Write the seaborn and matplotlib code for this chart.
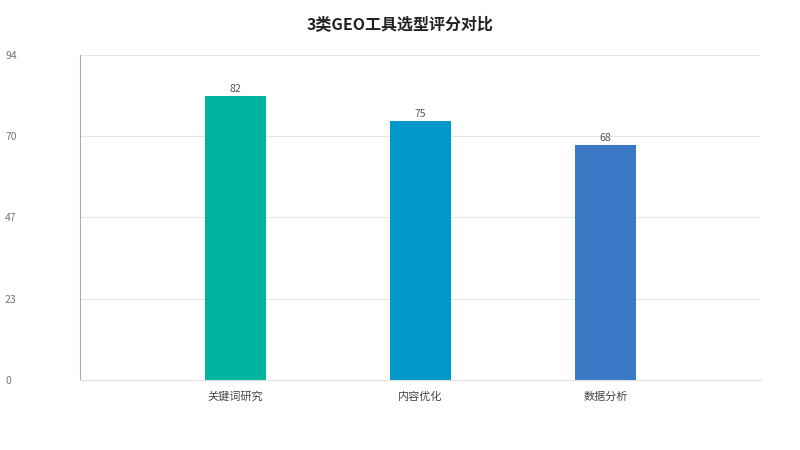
import matplotlib.pyplot as plt
import seaborn as sns
import pandas as pd

categories = ["关键词研究", "内容优化", "数据分析"]
scores = [82, 75, 68]
colors = ["#00B39E", "#0098C8", "#3B78C6"]
y_ticks = [0, 23.5, 47, 70.5, 94]

sns.set_theme(style="white")
plt.rcParams['font.family'] = ['Noto Sans CJK SC', 'DejaVu Sans']

df = pd.DataFrame({"tool": categories, "score": scores})

fig = plt.figure(figsize=(8, 4.5), dpi=100)
ax = fig.add_axes([0.1, 0.1556, 0.85125, 0.7222])

sns.barplot(data=df, x="tool", y="score", hue="tool", palette=colors,
            width=0.33, legend=False, ax=ax, saturation=1, linewidth=0)

for c in ax.containers:
    ax.bar_label(c, padding=1.5, fontsize=7.5, color="#555555")

ax.set_xlim(-0.84, 2.84)
ax.set_ylim(0, 94)
ax.set_yticks(y_ticks)
ax.set_yticklabels([str(int(v)) for v in y_ticks])
ax.yaxis.grid(True, color="#e6e6e6", linewidth=0.8)
ax.set_axisbelow(True)

for s in ["top", "right"]:
    ax.spines[s].set_visible(False)
ax.spines["left"].set_color("#aaaaaa")
ax.spines["left"].set_linewidth(0.8)
ax.spines["bottom"].set_color("#e0e0e0")
ax.spines["bottom"].set_linewidth(0.8)

ax.tick_params(axis="y", length=0, pad=54, labelsize=7.5, labelcolor="#777777")
for lab in ax.get_yticklabels():
    lab.set_horizontalalignment("left")
ax.tick_params(axis="x", length=0, pad=8.5, labelsize=8, labelcolor="#444444")

ax.set_xlabel("")
ax.set_ylabel("")
fig.suptitle("3类GEO工具选型评分对比", y=0.965, fontsize=11.5, fontweight="bold", color="#222222")

fig.savefig("out.png", dpi=100)
